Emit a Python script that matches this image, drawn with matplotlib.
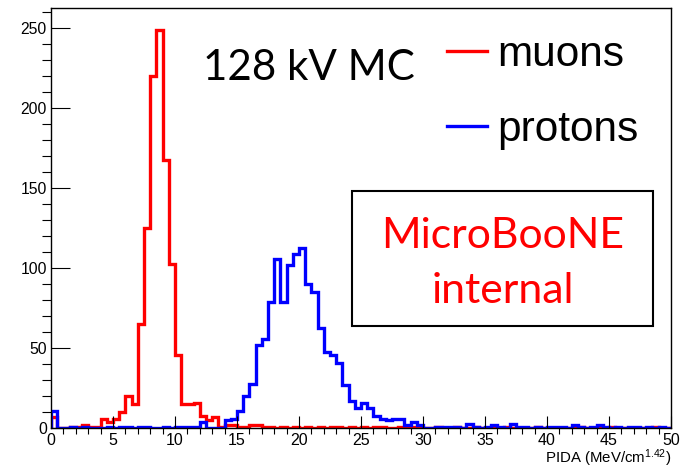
import matplotlib
matplotlib.use("Agg")
import matplotlib.pyplot as plt
import numpy as np
from matplotlib.lines import Line2D
from matplotlib.patches import Rectangle

# 100 bins, 0..50 step 0.5
edges = np.linspace(0, 50, 101)

muons = [7, 0, 0, 1, 1, 2, 1, 1, 6, 4,
         6, 10, 20, 15, 65, 125, 220, 249, 168, 103,
         46, 15, 15, 16, 8, 5, 7, 1, 2, 2,
         1, 1, 2, 2, 1, 1, 0, 1, 0, 1,
         0, 1, 0, 1, 0, 1, 1, 0, 1, 0,
         1, 0, 1, 1, 0, 0, 1, 0, 1, 0,
         0, 0, 1, 0, 0, 1, 0, 0, 1, 0,
         0, 0, 0, 1, 0, 0, 0, 0, 1, 0,
         0, 0, 0, 0, 0, 1, 0, 0, 0, 0,
         1, 0, 0, 0, 0, 0, 0, 1, 0, 0]

protons = [11, 0, 0, 1, 0, 1, 0, 0, 0, 1,
           0, 1, 1, 0, 1, 1, 0, 0, 1, 0,
           1, 1, 1, 1, 4, 0, 0, 0, 5, 6,
           11, 20, 28, 52, 56, 79, 106, 79, 102, 109,
           113, 90, 85, 63, 48, 46, 41, 27, 17, 13,
           16, 13, 8, 6, 5, 6, 6, 2, 4, 2,
           0, 0, 1, 1, 1, 1, 0, 3, 1, 0,
           1, 2, 1, 0, 3, 1, 1, 0, 1, 0,
           1, 1, 1, 0, 2, 1, 0, 1, 2, 1,
           0, 1, 0, 1, 1, 0, 1, 0, 1, 0]

labels = ["muons", "protons"]
colors = ["#ff0000", "#0000ff"]

W, H = 691, 468
def fx(px): return px / W
def fy(py): return 1 - py / H

plt.rcParams['font.family'] = ['Liberation Sans', 'DejaVu Sans']
plt.rcParams['mathtext.default'] = 'regular'

fig = plt.figure(figsize=(W / 100, H / 100), dpi=100)
ax = fig.add_axes([fx(51), fy(428.3), fx(671) - fx(51), fy(8.3) - fy(428.3)])

ax.stairs(muons, edges, color=colors[0], lw=2.4)
ax.stairs(protons, edges, color=colors[1], lw=2.4)

ax.set_xlim(0, 50)
ax.set_ylim(0, 262.5)
ax.set_xticks(np.arange(0, 51, 5))
ax.set_xticks(np.arange(0, 51, 1), minor=True)
ax.set_yticks(np.arange(0, 251, 50))
ax.set_yticks(np.arange(0, 261, 10), minor=True)
ax.tick_params(direction='in', top=False, right=False)
ax.tick_params(axis='x', which='major', length=9, width=0.8, labelsize=11.5, pad=3.2)
ax.tick_params(axis='x', which='minor', length=4.5, width=0.8)
ax.tick_params(axis='y', which='major', length=13.7, width=0.8, labelsize=11.3, pad=3)
ax.tick_params(axis='y', which='minor', length=6.8, width=0.8)
for s in ax.spines.values():
    s.set_linewidth(1.0)

fig.text(fx(671), fy(463), 'PIDA (MeV/cm$^{1.42}$)', ha='right', va='baseline',
         fontsize=10.8)

fig.text(fx(203), fy(80), '128 kV MC', fontsize=30.3, family='Lato',
         ha='left', va='baseline')

handles = [Line2D([], [], color=c, lw=2.4) for c in colors]
ax.legend(handles, labels, loc='upper left', bbox_to_anchor=(fx(447), fy(35)),
          bbox_transform=fig.transFigure, frameon=False, fontsize=30.5,
          handlelength=0.94, handletextpad=0.24, labelspacing=0.83,
          borderpad=0, borderaxespad=0)

fig.add_artist(Rectangle((fx(352), fy(326)), fx(653) - fx(352), fy(191) - fy(326),
                         transform=fig.transFigure, fill=False, ec='black', lw=1.5))
fig.text(fx(503), fy(248), 'MicroBooNE', color='#ff0000', fontsize=30.8,
         family='Lato', ha='center', va='baseline')
fig.text(fx(503), fy(303), 'internal', color='#ff0000', fontsize=30.8,
         family='Lato', ha='center', va='baseline')

fig.savefig('out.png', dpi=100)
